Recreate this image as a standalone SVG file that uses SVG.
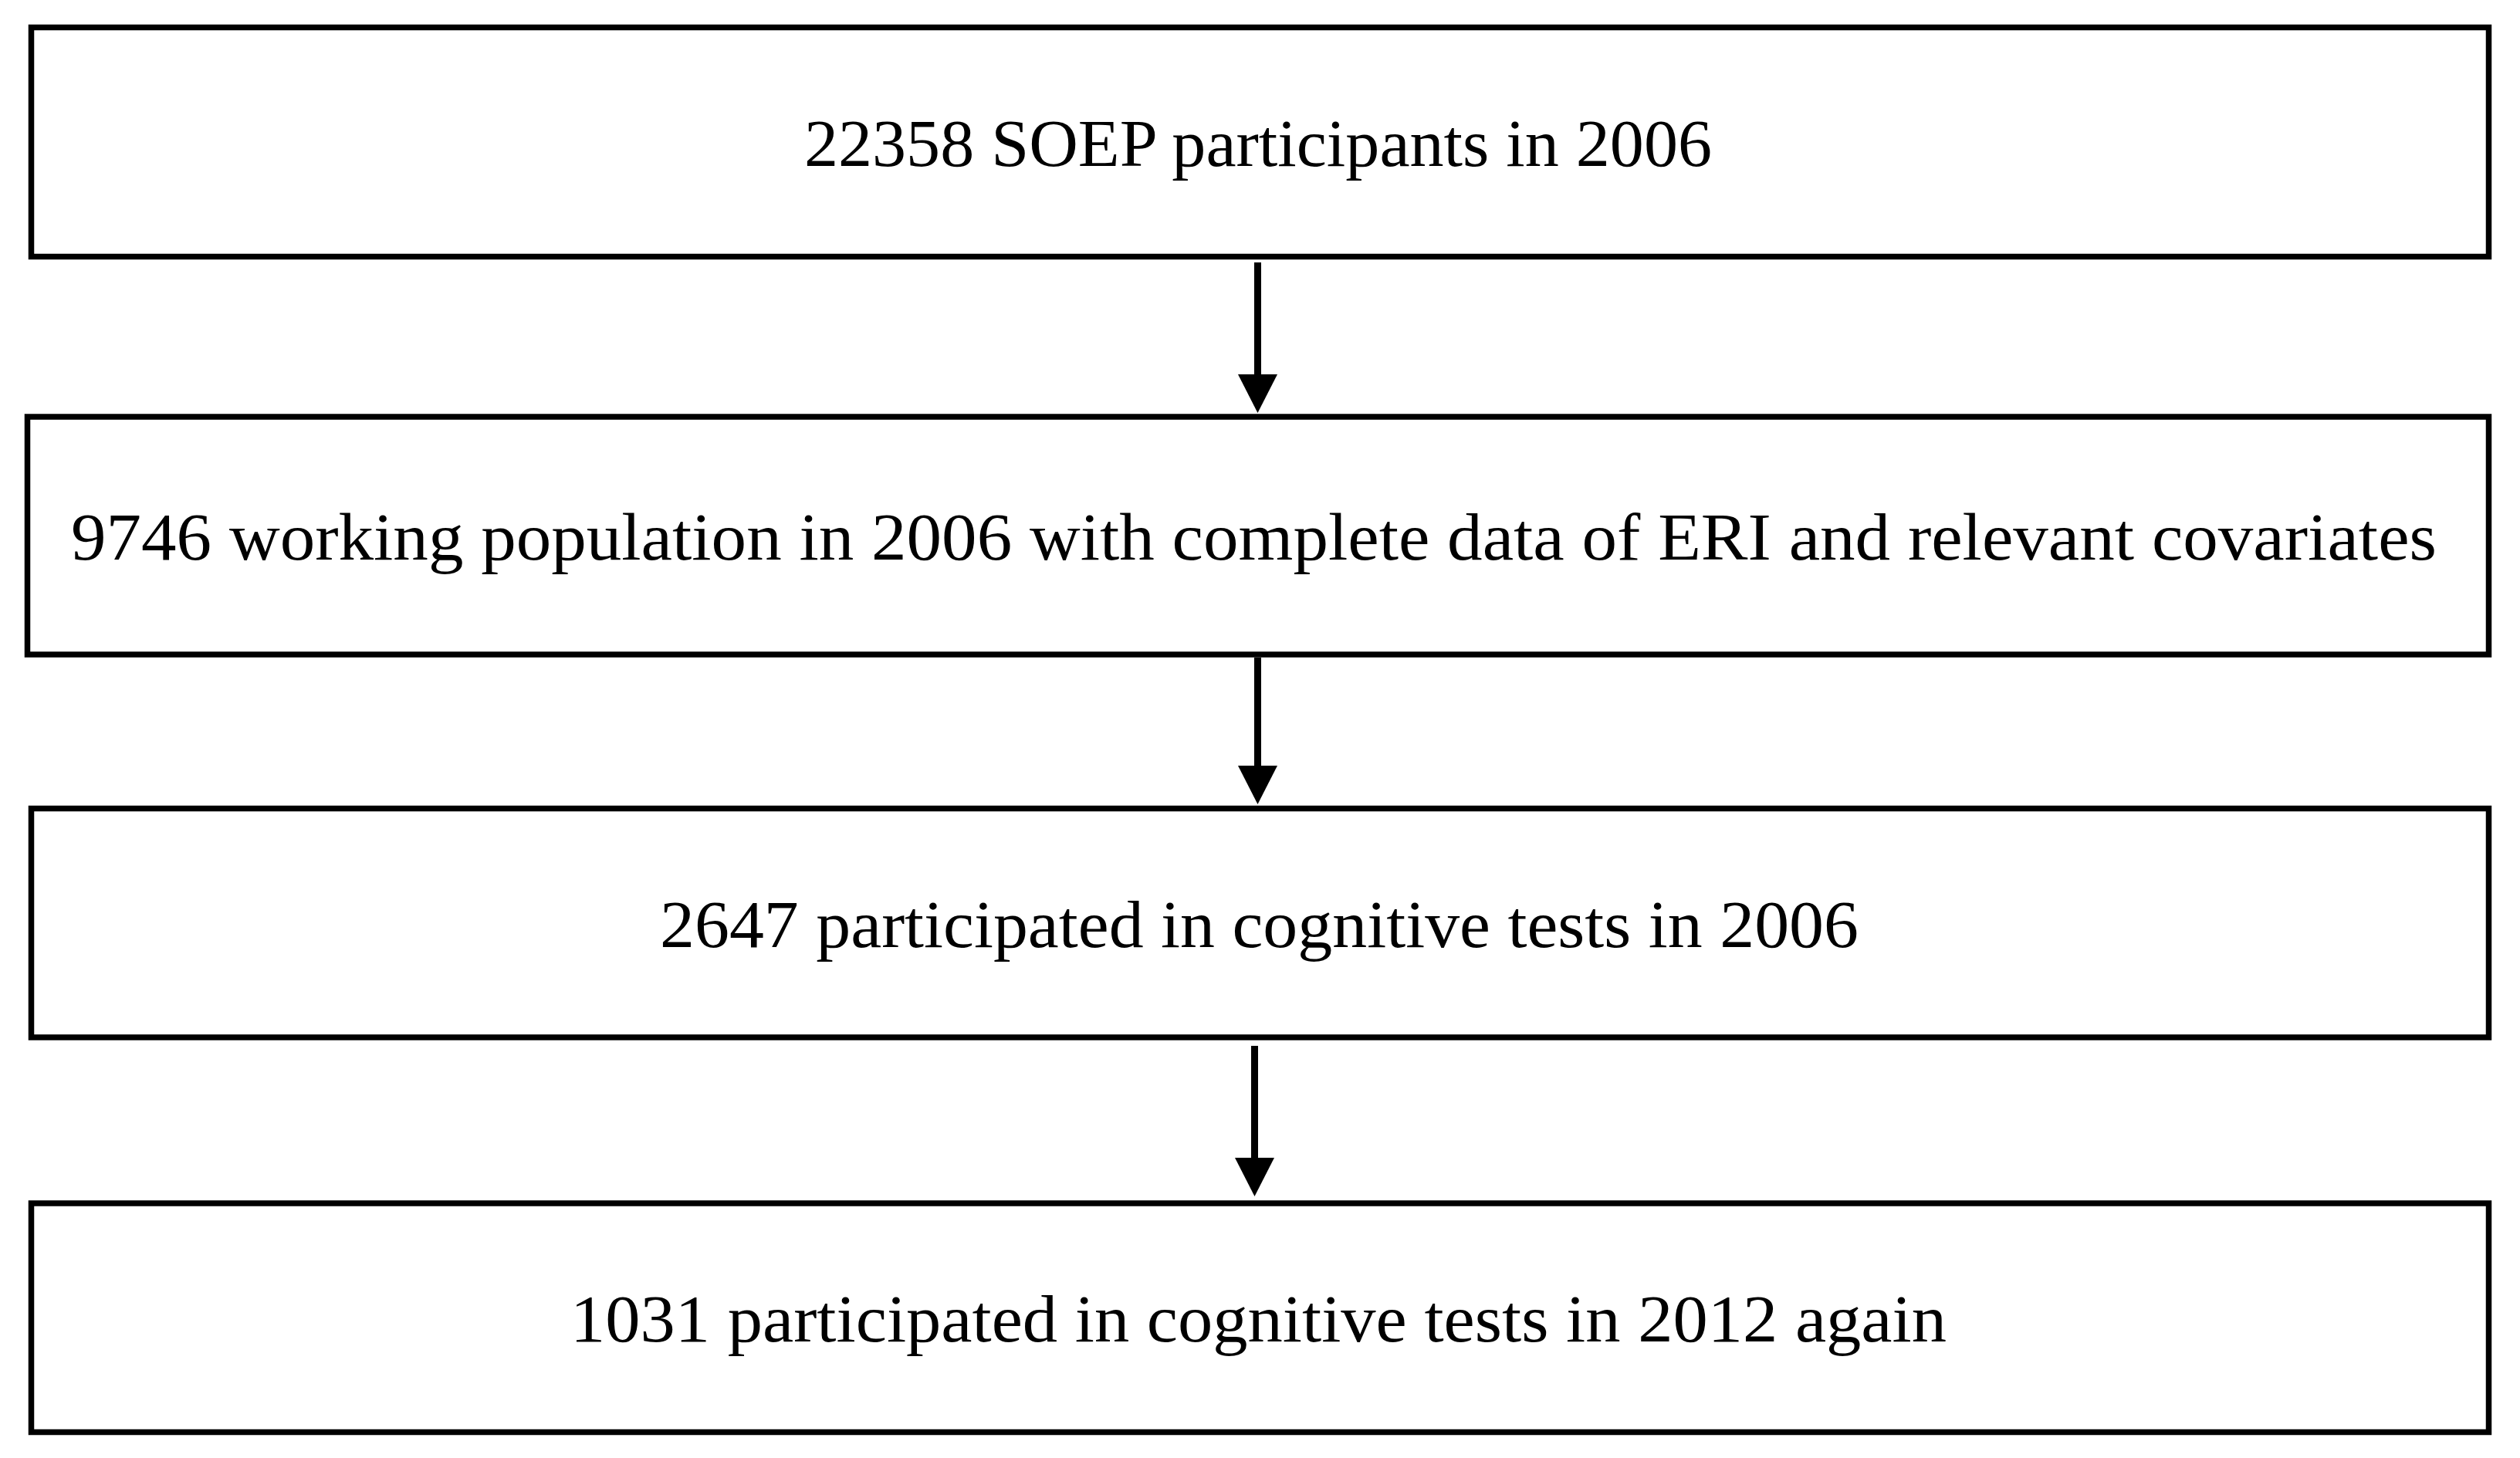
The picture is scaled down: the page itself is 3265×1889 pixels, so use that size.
<svg xmlns="http://www.w3.org/2000/svg" width="3265" height="1889" viewBox="0 0 3265 1889">
<style>
.box{fill:#ffffff;stroke:#000000;stroke-width:7.5}
.lbl{font-family:"Liberation Serif","DejaVu Serif",serif;font-size:86px;fill:#000000}
.ln{stroke:#000000;stroke-width:9;fill:none}
.hd{fill:#000000;stroke:none}
</style>
<rect width="3265" height="1889" fill="#ffffff"/>
<g id="connectors">
<line class="ln" x1="1629.5" y1="340" x2="1629.5" y2="490"/>
<polygon class="hd" points="1604,485 1655,485 1629.5,535"/>
<line class="ln" x1="1629.5" y1="852" x2="1629.5" y2="997"/>
<polygon class="hd" points="1604,992 1655,992 1629.5,1042"/>
<line class="ln" x1="1625.5" y1="1355" x2="1625.5" y2="1505"/>
<polygon class="hd" points="1600,1500 1651,1500 1625.5,1550"/>
</g>
<g id="node1">
<rect class="box" x="40.5" y="35.5" width="3184" height="297"/>
<text class="lbl" x="1042" y="215" textLength="1176" lengthAdjust="spacingAndGlyphs">22358 SOEP participants in 2006</text>
</g>
<g id="node2">
<rect class="box" x="35.5" y="540" width="3189" height="308"/>
<text class="lbl" x="92" y="725" textLength="3065" lengthAdjust="spacingAndGlyphs">9746 working population in 2006 with complete data of ERI and relevant covariates</text>
</g>
<g id="node3">
<rect class="box" x="40.5" y="1047.5" width="3184" height="296.5"/>
<text class="lbl" x="855" y="1227" textLength="1553" lengthAdjust="spacingAndGlyphs">2647 participated in cognitive tests in 2006</text>
</g>
<g id="node4">
<rect class="box" x="40.5" y="1559" width="3184" height="296.5"/>
<text class="lbl" x="739" y="1738" textLength="1783" lengthAdjust="spacingAndGlyphs">1031 participated in cognitive tests in 2012 again</text>
</g>
</svg>
